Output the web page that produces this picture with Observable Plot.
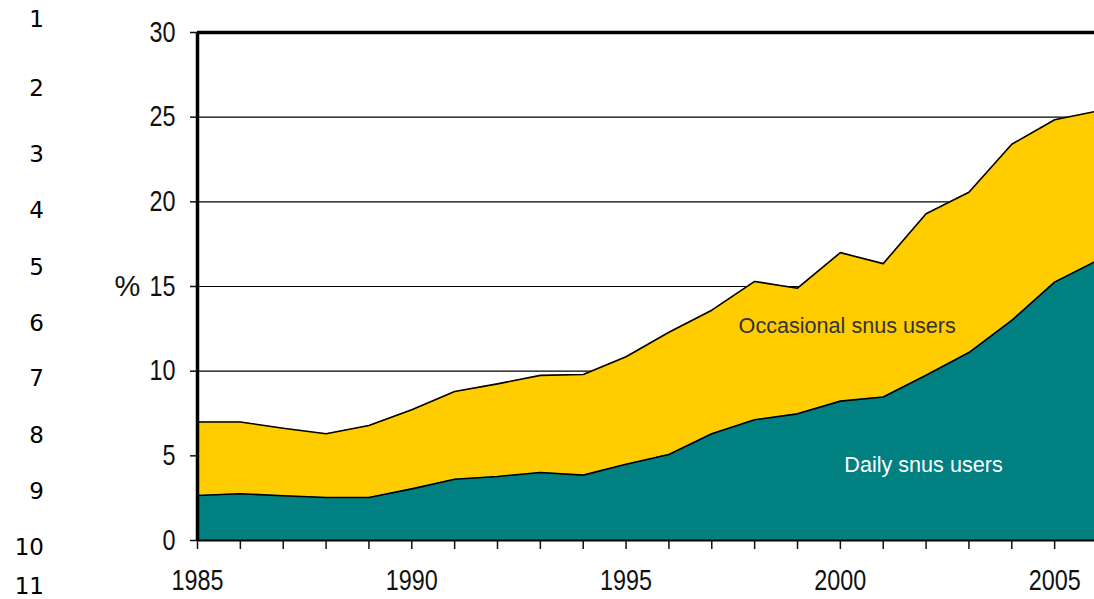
<!DOCTYPE html>
<html><head><meta charset="utf-8">
<script src="https://cdn.jsdelivr.net/npm/d3@7"></script>
<script src="https://cdn.jsdelivr.net/npm/@observablehq/plot@0.6"></script>
<style>
html,body{margin:0;padding:0;background:#fff;overflow:hidden;}
#wrap{position:relative;width:1094px;height:599px;overflow:hidden;}
#rows{position:absolute;left:0;top:0;width:44px;height:599px;font-family:"DejaVu Sans",sans-serif;font-size:23px;color:#000;z-index:2;}
#rows div{position:absolute;right:0;transform:translateY(-50%);line-height:1;}
svg{max-width:none !important;overflow:hidden;}
</style></head><body><div id="wrap"><div id="rows"></div></div>
<script>
// Data (percent)
const years = [1985,1986,1987,1988,1989,1990,1991,1992,1993,1994,1995,1996,1997,1998,1999,2000,2001,2002,2003,2004,2005,2006];
const daily = [2.66,2.76,2.64,2.54,2.54,3.05,3.62,3.78,4.02,3.86,4.5,5.08,6.3,7.13,7.48,8.23,8.47,9.76,11.1,13.0,15.26,16.54];
const occasional = [4.34,4.24,3.99,3.76,4.25,4.67,5.18,5.47,5.73,5.94,6.35,7.22,7.3,8.17,7.42,8.77,7.88,9.54,9.47,10.4,9.59,8.82];
const yTicks = [0,5,10,15,20,25,30];
const gridTicks = [5,10,15,20,25];
const xLabelTicks = [1985,1990,1995,2000,2005];
const yLabel = "%";
const seriesLabels = [
  {text:"Occasional snus users", year:2000.16, value:12.64, color:"#333333"},
  {text:"Daily snus users", year:2001.94, value:4.43, color:"#ffffff"}
];
const rowLabels = ["1","2","3","4","5","6","7","8","9","10","11"];
const rowPos = [19,88,154,210,267,323,378,435,491,547,586];

const table = years.map((year,i)=>({year, daily:daily[i], total:daily[i]+occasional[i]}));

const curve = "linear";
const teal = "#008080", yellow = "#ffcc00";
const axisFont = '"Liberation Sans",Arial,sans-serif';

const plot = Plot.plot({
  width: 1097,
  height: 599,
  marginLeft: 197,
  marginRight: 0,
  marginTop: 32,
  marginBottom: 59,
  style: {fontFamily: axisFont, fontSize: "29px", color: "#111", background: "#fff"},
  x: {type:"linear", domain:[1985,2006], label:null},
  y: {domain:[0,30], label:null},
  marks: [
    Plot.ruleY(gridTicks, {stroke:"#000", strokeWidth:1.2}),
    Plot.areaY(table, {x:"year", y1:"daily", y2:"total", fill:yellow, curve}),
    Plot.areaY(table, {x:"year", y1:0, y2:"daily", fill:teal, curve}),
    Plot.lineY(table, {x:"year", y:"total", stroke:"#000", strokeWidth:1.6, curve}),
    Plot.lineY(table, {x:"year", y:"daily", stroke:"#000", strokeWidth:1.6, curve}),
    Plot.ruleY([30], {stroke:"#000", strokeWidth:3.5}),
    Plot.ruleY([0], {stroke:"#000", strokeWidth:2}),
    Plot.ruleX([1985], {stroke:"#000", strokeWidth:3.5}),
    Plot.axisY({ticks:yTicks, tickSize:7, tickPadding:15, strokeWidth:1.5, tickFormat:d=>String(d)}),
    Plot.axisX({ticks:years, tickSize:9, strokeWidth:1.5, tickFormat:()=>""}),
    Plot.axisX({ticks:xLabelTicks, tickSize:0, tickPadding:29, tickFormat:d=>String(d)}),
    Plot.text([yLabel], {x:()=>1985, y:()=>15, text:d=>d, dx:-70, fontSize:29, fontFamily:axisFont, fill:"#111", ariaLabel:"percent label"}),
    Plot.text(seriesLabels, {x:"year", y:"value", text:"text", fill:"color", fontSize:21.6, fontFamily:axisFont})
  ]
});
// Narrow the axis glyphs to match the condensed face of the original
plot.querySelectorAll('g[aria-label$="tick label"] text, g[aria-label="percent label"] text').forEach(t=>{
  const s = t.textContent;
  if (!s) return;
  const w = s === "%" ? 20 : 13 * s.length;
  t.setAttribute("textLength", w);
  t.setAttribute("lengthAdjust", "spacingAndGlyphs");
});
document.getElementById("wrap").appendChild(plot);
const rows = document.getElementById("rows");
rowLabels.forEach((t,i)=>{const d=document.createElement("div"); d.textContent=t; d.style.top=rowPos[i]+"px"; rows.appendChild(d);});
</script></body></html>
